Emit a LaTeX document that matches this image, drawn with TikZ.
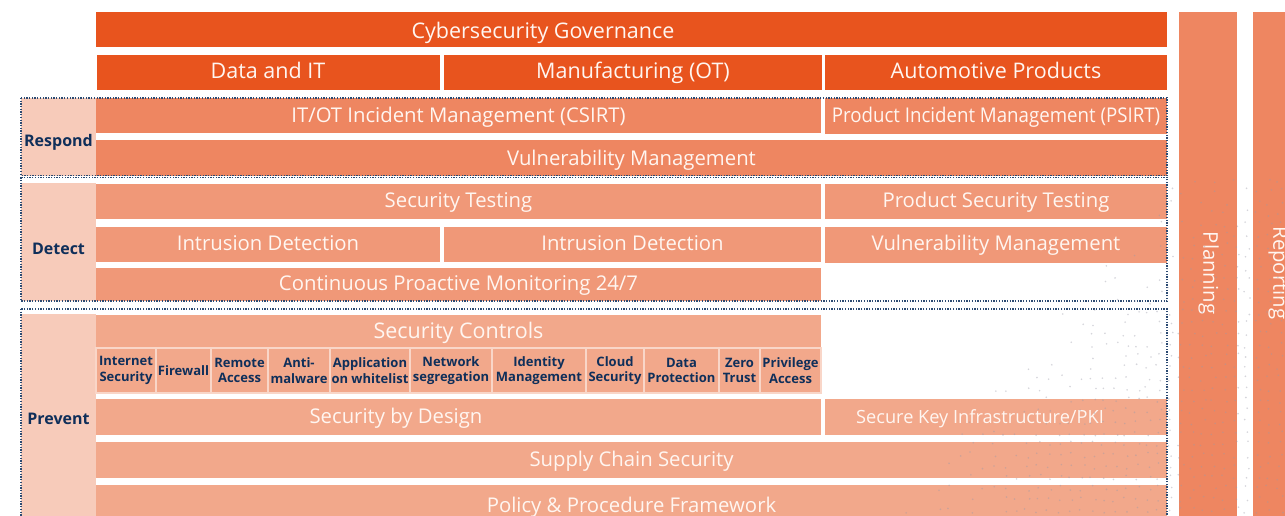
\documentclass[tikz,border=0pt]{standalone}
\usepackage{fontspec}
\setmainfont{Open Sans}
\usepackage{graphicx}
\definecolor{govc}{HTML}{E8541E}
\definecolor{resc}{HTML}{EE8661}
\definecolor{detc}{HTML}{F09878}
\definecolor{prvc}{HTML}{F2A88B}
\definecolor{labc}{HTML}{F7CBBA}
\definecolor{navy}{HTML}{0F2F5A}
\definecolor{dotc}{HTML}{2B4A72}
\definecolor{sepc}{HTML}{F9D6C8}
\definecolor{txtc}{HTML}{FFF6F1}
\definecolor{dotg}{HTML}{9A9AA8}
\newcommand\bx[7]{%
 \node[#6, minimum width={(#4-#2)*1pt}, minimum height={(#5-#3)*1pt}] (#1) at ({(#2+#4)/2},{(#3+#5)/2}) {#7};}
\tikzset{
 cell/.style={inner sep=0pt, outer sep=0pt, text=txtc, font=\fontsize{20.3}{24}\selectfont, text height=14.5pt, text depth=0pt},
 gov/.style={cell, fill=govc, font=\fontsize{21.5}{25}\selectfont, text height=15.4pt},
 res/.style={cell, fill=resc},
 det/.style={cell, fill=detc, text depth=3.5pt},
 prv/.style={cell, fill=prvc},
 lab/.style={cell, fill=labc},
 labt/.style={inner sep=0pt, text=navy, font=\fontsize{16}{19}\selectfont\bfseries, text height=11.5pt, text depth=0pt},
 ctl/.style={inner sep=0pt, outer sep=0pt, fill=prvc, draw=sepc, line width=1.2pt, text=navy, align=center, font=\fontsize{13}{15.5}\selectfont\bfseries},
 dotbox/.style={draw=dotc, line width=1.1pt, dash pattern=on 1.3pt off 1.4pt},
}
\begin{document}
\begin{tikzpicture}[x=1pt,y=-1pt]
\useasboundingbox (0,0) rectangle (1285,516);
\clip (0,0) rectangle (1285,516);
% governance
\bx{gov}{96}{12}{1167}{47.5}{gov}{}
\node[gov, fill=none] (govt) at (543,31) {Cybersecurity Governance};
\bx{dit}{96.5}{55}{439.5}{90.5}{gov}{}
\node[gov, fill=none] (ditt) at (268,71) {Data and IT};
\bx{mot}{444}{55}{821.5}{90.5}{gov}{}
\node[gov, fill=none] (mott) at (633,71) {Manufacturing (OT)};
\bx{aut}{825}{55}{1167}{90.5}{gov}{}
\node[gov, fill=none] (autt) at (996,71) {Automotive Products};
% respond
\bx{rlab}{21}{98}{96}{176}{lab}{}
\node[labt] (rlabt) at (58.5,140.5) {Respond};
\bx{csirt}{96}{98}{821}{133}{res}{IT/OT Incident Management (CSIRT)}
\bx{psirt}{825}{98}{1167}{134}{res, text depth=2pt}{\scalebox{0.92}[1]{Product Incident Management (PSIRT)}}
\bx{vm1}{96}{140}{1167}{176}{res}{Vulnerability Management}
% detect
\bx{dlab}{21}{183}{96}{301}{lab}{}
\node[labt] (dlabt) at (58.5,249) {Detect};
\bx{st}{96}{184}{821}{219}{det}{Security Testing}
\bx{pst}{825}{184}{1167}{219}{det}{Product Security Testing}
\bx{id1}{96}{227}{440}{262}{det}{Intrusion Detection}
\bx{id2}{444}{227}{821}{262}{det}{Intrusion Detection}
\bx{vm2}{825}{227}{1167}{263}{det}{Vulnerability Management}
\bx{cpm}{96}{268}{821}{301}{det}{Continuous Proactive Monitoring 24/7}
% prevent
\bx{plab}{21}{314}{96}{520}{lab}{}
\node[labt] (plabt) at (58.5,419) {Prevent};
\bx{sc}{96}{315}{821}{347}{prv}{}
\node[gov, fill=none, text=txtc] (sct) at (458.5,330.5) {Security Controls};
\bx{c1}{96}{348}{156}{393}{ctl}{Internet\\Security}
\bx{c2}{156}{348}{211}{393}{ctl}{Firewall}
\bx{c3}{211}{348}{268}{393}{ctl}{Remote\\Access}
\bx{c4}{268}{348}{330}{393}{ctl}{Anti-\\malware}
\bx{c5}{330}{348}{410}{393}{ctl}{Application\\on whitelist}
\bx{c6}{410}{348}{492}{393}{ctl}{Network\\segregation}
\bx{c7}{492}{348}{586}{393}{ctl}{Identity\\Management}
\bx{c8}{586}{348}{644}{393}{ctl}{Cloud\\Security}
\bx{c9}{644}{348}{719}{393}{ctl}{Data\\Protection}
\bx{c10}{719}{348}{760}{393}{ctl}{Zero\\Trust}
\bx{c11}{760}{348}{821}{393}{ctl}{Privilege\\Access}
\bx{sbd}{96}{399}{821}{435}{prv}{}
\node[cell] (sbdt) at (396,416) {Security by Design};
\bx{pki}{825}{399}{1167}{435}{prv}{}
\node[cell, font=\fontsize{18.2}{22}\selectfont, text height=13pt] (pkit) at (980,416.5) {Secure Key Infrastructure/PKI};
\bx{scs}{96}{442}{1167}{478}{prv, text depth=1.5pt}{Supply Chain Security}
\bx{ppf}{96}{485}{1167}{521}{prv}{}
\node[cell] (ppft) at (631.5,505) {Policy \& Procedure Framework};
% side columns
\bx{plan}{1179}{12}{1237}{530}{res}{}
\node[cell, rotate=-90] (plant) at (1210.5,273) {Planning};
\bx{rep}{1253}{12}{1311}{530}{res}{}
\node[cell, rotate=-90] (rept) at (1280.5,273) {Reporting};
% dotted frames
\draw[dotbox] (21,98) rectangle (1167,175.7);
\draw[dotbox] (21,177.2) rectangle (1167,301);
\draw[dotbox] (21,309) rectangle (1167,530);
% faint dot texture, lower right
\pgfmathsetseed{42}
\foreach \gx in {840,851,...,1285}{
 \foreach \gy in {180,191,...,516}{
  \pgfmathsetmacro\ss{\gx+0.8*\gy-1290-160*rnd}
  \ifdim\ss pt>0pt
   \fill[dotg, opacity=0.42] ({\gx+3*rand},{\gy+3*rand}) circle (0.9);
  \fi
 }}
\end{tikzpicture}
\end{document}
